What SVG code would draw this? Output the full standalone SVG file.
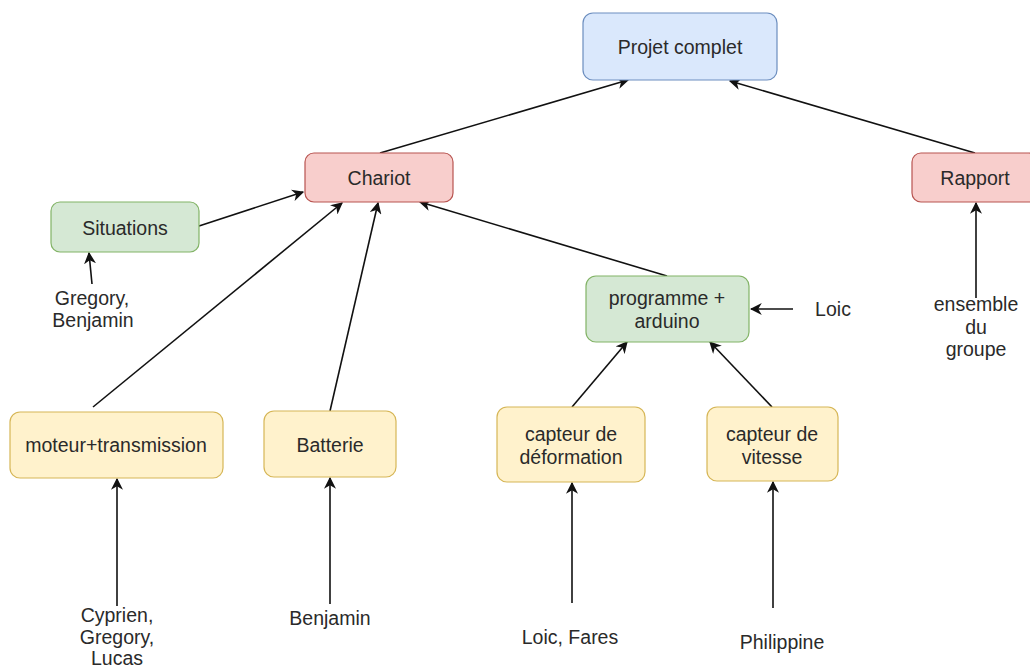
<svg xmlns="http://www.w3.org/2000/svg" width="1030" height="668" viewBox="0 0 1030 668">
<defs>
<marker id="arr" viewBox="0 0 10 10" refX="9" refY="5" markerWidth="12" markerHeight="12" markerUnits="userSpaceOnUse" orient="auto">
<path d="M0,0 L10,5 L0,10 L3,5 Z" fill="#111"/>
</marker>
</defs>
<style>
text{font-family:"Liberation Sans",Arial,sans-serif;font-size:19.5px;fill:#2a2a2a;text-anchor:middle;dominant-baseline:central}
.blue{fill:#dae8fc;stroke:#6c8ebf;stroke-width:1.2}
.red{fill:#f8cecc;stroke:#b85450;stroke-width:1.2}
.green{fill:#d5e8d4;stroke:#82b366;stroke-width:1.2}
.yellow{fill:#fff2cc;stroke:#d6b656;stroke-width:1.2}
.edge{fill:none;stroke:#111;stroke-width:1.6;marker-end:url(#arr)}
</style>
<rect width="1030" height="668" fill="#fff"/>
<g id="connectors">
<line class="edge" x1="380" y1="153" x2="628" y2="80"/>
<line class="edge" x1="975" y1="153" x2="730" y2="81"/>
<line class="edge" x1="199" y1="226" x2="303" y2="192"/>
<line class="edge" x1="93" y1="407" x2="342" y2="203"/>
<line class="edge" x1="330" y1="411" x2="378" y2="203"/>
<line class="edge" x1="667" y1="276" x2="420" y2="202"/>
<line class="edge" x1="572" y1="407" x2="627" y2="342"/>
<line class="edge" x1="772" y1="407" x2="710" y2="342"/>
<line class="edge" x1="793" y1="309" x2="751" y2="309"/>
<line class="edge" x1="976" y1="298" x2="976" y2="203"/>
<line class="edge" x1="92" y1="284" x2="89" y2="253"/>
<line class="edge" x1="117" y1="606" x2="117" y2="479"/>
<line class="edge" x1="330" y1="604" x2="330" y2="478"/>
<line class="edge" x1="572" y1="603" x2="572" y2="483"/>
<line class="edge" x1="773" y1="608" x2="773" y2="482"/>
</g>
<g id="projet">
<rect class="blue" x="583" y="13" width="194" height="67" rx="10"/>
<text x="680" y="47">Projet complet</text>
</g>
<g id="chariot">
<rect class="red" x="305" y="153" width="148" height="49" rx="9"/>
<text x="379" y="178">Chariot</text>
</g>
<g id="rapport">
<rect class="red" x="912" y="153" width="126" height="49" rx="9"/>
<text x="975" y="178">Rapport</text>
</g>
<g id="situations">
<rect class="green" x="51" y="202" width="148" height="50" rx="9"/>
<text x="125" y="228">Situations</text>
</g>
<g id="programme">
<rect class="green" x="586" y="276" width="163" height="66" rx="10"/>
<text x="667" y="298">programme +</text>
<text x="667" y="321">arduino</text>
</g>
<g id="moteur">
<rect class="yellow" x="10" y="412" width="213" height="66" rx="10"/>
<text x="116" y="445">moteur+transmission</text>
</g>
<g id="batterie">
<rect class="yellow" x="264" y="411" width="132" height="66" rx="10"/>
<text x="330" y="445">Batterie</text>
</g>
<g id="capteur-deformation">
<rect class="yellow" x="497" y="407" width="148" height="75" rx="10"/>
<text x="571" y="434">capteur de</text>
<text x="571" y="457">déformation</text>
</g>
<g id="capteur-vitesse">
<rect class="yellow" x="707" y="407" width="131" height="74" rx="10"/>
<text x="772" y="434">capteur de</text>
<text x="772" y="457">vitesse</text>
</g>
<g id="labels">
<text x="92" y="298">Gregory,</text>
<text x="93" y="320">Benjamin</text>
<text x="833" y="309">Loic</text>
<text x="976" y="304">ensemble</text>
<text x="976" y="327">du</text>
<text x="976" y="349">groupe</text>
<text x="117" y="615">Cyprien,</text>
<text x="117" y="637">Gregory,</text>
<text x="117" y="658">Lucas</text>
<text x="330" y="618">Benjamin</text>
<text x="570" y="637">Loic, Fares</text>
<text x="782" y="642">Philippine</text>
</g>
</svg>
